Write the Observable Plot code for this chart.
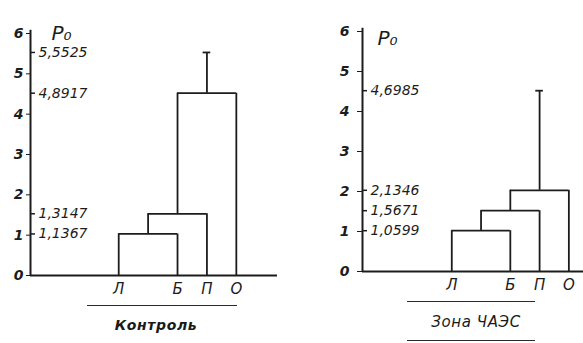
<!DOCTYPE html>
<html><head><meta charset="utf-8">
<script src="https://cdn.jsdelivr.net/npm/d3@7"></script>
<script src="https://cdn.jsdelivr.net/npm/@observablehq/plot@0.6"></script>
<style>
body{margin:0;background:#fff;}
#root{position:relative;width:583px;height:343px;overflow:hidden;font-family:"DejaVu Sans",sans-serif;font-style:italic;color:#1a1a1a;background:#fff}
.panel{position:absolute;top:0}
.cap{position:absolute;text-align:center;white-space:nowrap;transform:translate(-50%,-50%)}
.line{position:absolute;height:0;border-top:1.6px solid #2a2a2a}
</style></head><body><div id="root"></div>
<script>
// Data
const leafNames = ["Л", "Б", "П", "О"];
const leafPos = [0, 2, 3, 4];
const yTicks = [0, 1, 2, 3, 4, 5, 6];
const controlHeights = [1.03, 1.53, 4.52];
const controlTop = 5.53;
const controlLabels = ["1,1367", "1,3147", "4,8917", "5,5525"];
const zoneHeights = [1.02, 1.52, 2.03];
const zoneTop = 4.52;
const zoneLabels = ["1,0599", "1,5671", "2,1346", "4,6985"];
const yLabel = "P₀";
const captions = ["Контроль", "Зона ЧАЭС"];

const INK = "#1c1c1c";

function dendro(h, top) {
  const p = leafPos;
  const c1 = (p[0] + p[1]) / 2, c2 = (c1 + p[2]) / 2, c3 = (c2 + p[3]) / 2;
  const v = [
    {x: p[0], y1: 0, y2: h[0]}, {x: p[1], y1: 0, y2: h[0]},
    {x: c1, y1: h[0], y2: h[1]}, {x: p[2], y1: 0, y2: h[1]},
    {x: c2, y1: h[1], y2: h[2]}, {x: p[3], y1: 0, y2: h[2]},
    {x: c3, y1: h[2], y2: top}
  ];
  const hz = [
    {y: h[0], x1: p[0], x2: p[1]},
    {y: h[1], x1: c1, x2: p[2]},
    {y: h[2], x1: c2, x2: p[3]}
  ];
  return {v, hz, c3};
}

function panel(o) {
  const d = dendro(o.heights, o.top);
  const labelY = [...o.heights, o.top];
  const x0 = o.xDomain[0];
  return Plot.plot({
    width: o.width, height: o.height,
    marginLeft: o.marginLeft, marginRight: o.marginRight,
    marginTop: o.marginTop, marginBottom: o.marginBottom,
    style: {fontFamily: "DejaVu Sans, sans-serif", fontStyle: "italic", fontWeight: "bold", fontSize: "14px", color: INK, background: "transparent", overflow: "visible"},
    x: {domain: o.xDomain, axis: null},
    y: {domain: [0, 6], ticks: yTicks, tickFormat: "d", tickSize: o.tickSize, tickPadding: o.tickPadding, label: null},
    marks: [
      Plot.ruleX([x0], {y1: 0, y2: 6.08, stroke: INK, strokeWidth: 2}),
      Plot.ruleY([0], {x1: x0, x2: o.xDomain[1], stroke: INK, strokeWidth: 2}),
      Plot.ruleX(d.v, {x: "x", y1: "y1", y2: "y2", stroke: INK, strokeWidth: 1.8}),
      Plot.ruleY(d.hz, {y: "y", x1: "x1", x2: "x2", stroke: INK, strokeWidth: 1.8}),
      Plot.ruleY([o.top], {x1: d.c3 - 0.13, x2: d.c3 + 0.13, stroke: INK, strokeWidth: 1.8}),
      Plot.ruleY(labelY, {x1: x0, x2: x0 + 0.17, stroke: INK, strokeWidth: 1.5}),
      Plot.text(o.labels, {x: x0, y: (_, i) => labelY[i], text: (t) => t, dx: 8, textAnchor: "start", fontSize: 14, fontWeight: "normal", fill: INK}),
      Plot.text(leafNames, {x: (_, i) => leafPos[i], y: 0, text: (t) => t, dy: 14, fontSize: 15, fontWeight: "normal", fill: INK}),
      Plot.text([yLabel], {frameAnchor: "top-left", text: (t) => t, dx: o.labDx, dy: o.labDy, fontSize: 20, fontWeight: "normal", textAnchor: "start", fill: INK})
    ]
  });
}

const root = document.getElementById("root");

const left = panel({
  heights: controlHeights, top: controlTop, labels: controlLabels,
  width: 290, height: 300, marginLeft: 30, marginRight: 13, marginTop: 33, marginBottom: 25,
  xDomain: [-3, 5.4], tickSize: 4, tickPadding: 3, labDx: 21, labDy: -8
});
left.classList.add("panel");
left.style.left = "0px";
root.appendChild(left);

const right = panel({
  heights: zoneHeights, top: zoneTop, labels: zoneLabels,
  width: 293, height: 296, marginLeft: 72, marginRight: 0, marginTop: 31, marginBottom: 25,
  xDomain: [-3.05, 4.5], tickSize: 5, tickPadding: 8, labDx: 15, labDy: -1
});
right.classList.add("panel");
right.style.left = "290px";
root.appendChild(right);

function line(x1, x2, y) {
  const el = document.createElement("div");
  el.className = "line";
  el.style.left = x1 + "px"; el.style.width = (x2 - x1) + "px"; el.style.top = y + "px";
  root.appendChild(el);
}
function cap(text, x, y, css) {
  const el = document.createElement("div");
  el.className = "cap";
  el.textContent = text;
  el.style.left = x + "px"; el.style.top = y + "px";
  Object.assign(el.style, css);
  root.appendChild(el);
}
line(87, 237, 305);
cap(captions[0], 156, 325, {fontWeight: "bold", fontSize: "14px", letterSpacing: "0.6px"});
line(407, 535, 301);
cap(captions[1], 476, 322, {fontSize: "15px", letterSpacing: "0.6px"});
line(407, 535, 340);
</script></body></html>
